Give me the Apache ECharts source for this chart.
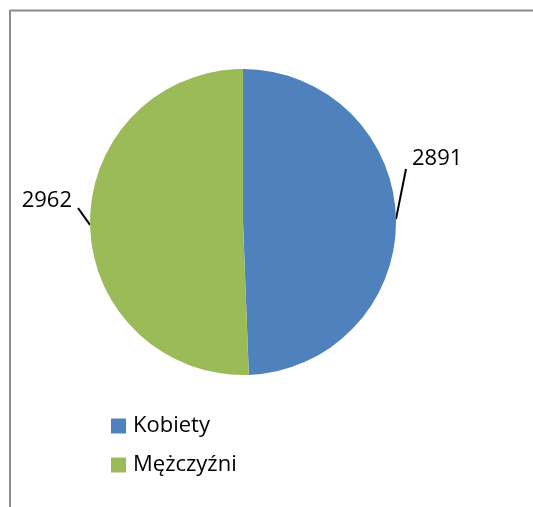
<!DOCTYPE html>
<html>
<head>
<meta charset="utf-8">
<script src="https://cdn.jsdelivr.net/npm/echarts@6/dist/echarts.min.js"></script>
<style>
  html, body { margin: 0; padding: 0; background: #fff; }
  #main { width: 533px; height: 507px; }
</style>
</head>
<body>
<div id="main"></div>
<script>
// dane wykresu
const categories = ['Kobiety', 'Mężczyźni']
const values = [2891, 2962]
const colors = ['#4F81BD', '#9BBB59']

// położenie etykiet (lewy/prawy górny róg ramki) i marginesy, żeby linia trafiała w róg tekstu
const labelPos = [
  { x: 406, y: 148, align: 'left', padding: [0, 50, 20, 6] },
  { x: 78, y: 190, align: 'right', padding: [0, 6, 14, 8] }
]

const font = '"Open Sans", "Noto Sans", sans-serif'
const chart = echarts.init(document.getElementById('main'))

const data = categories.map((name, i) => ({
  name: name,
  value: values[i],
  itemStyle: { color: colors[i] },
  label: { padding: labelPos[i].padding }
}))

chart.setOption({
  animation: false,
  graphic: [
    { type: 'line', shape: { x1: 10, y1: 10.5, x2: 533, y2: 10.5 }, style: { stroke: '#8c8c8c', lineWidth: 2 } },
    { type: 'line', shape: { x1: 10, y1: 10, x2: 10, y2: 507 }, style: { stroke: '#8c8c8c', lineWidth: 2 } }
  ],
  legend: {
    orient: 'vertical',
    left: 111,
    top: 415,
    padding: 0,
    itemWidth: 15,
    itemHeight: 15,
    itemGap: 17,
    icon: 'rect',
    textStyle: { fontFamily: font, fontSize: 22, color: '#000', lineHeight: 22, padding: [0, 0, 0, 2] },
    data: categories
  },
  series: [{
    type: 'pie',
    center: [243, 222],
    radius: [0, 153],
    startAngle: 90,
    clockwise: true,
    label: {
      show: true,
      position: 'outside',
      formatter: '{c}',
      fontFamily: font,
      fontSize: 22,
      lineHeight: 22,
      color: '#000',
      overflow: 'none',
      width: 200
    },
    labelLine: {
      show: true,
      length: 10,
      length2: 0,
      lineStyle: { color: '#000', width: 2 }
    },
    labelLayout: function (params) {
      const p = labelPos[params.dataIndex]
      return { x: p.x, y: p.y, align: p.align, verticalAlign: 'top' }
    },
    emphasis: { disabled: true },
    data: data
  }]
})
</script>
</body>
</html>
